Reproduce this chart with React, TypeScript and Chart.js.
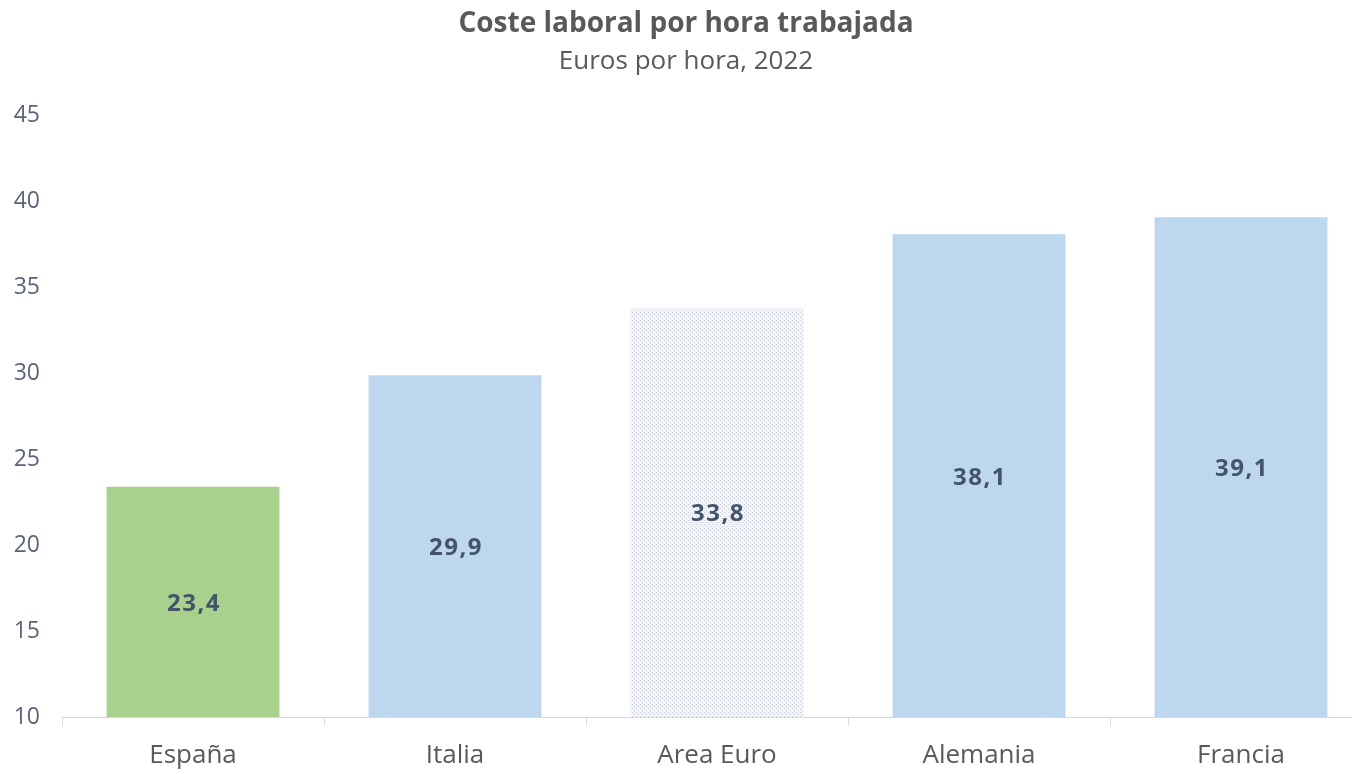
import React, { useEffect, useRef } from "react";
import { Chart, registerables } from "chart.js";

Chart.register(...registerables);

const categories = ["España", "Italia", "Area Euro", "Alemania", "Francia"];
const values = [23.4, 29.9, 33.8, 38.1, 39.1];
const valueLabels = ["23,4", "29,9", "33,8", "38,1", "39,1"];
const title = "Coste laboral por hora trabajada";
const subtitle = "Euros por hora, 2022";

function makePattern(): CanvasPattern | string {
  const c = document.createElement("canvas");
  c.width = 4;
  c.height = 4;
  const ctx = c.getContext("2d");
  if (!ctx) return "#eef0f4";
  ctx.fillStyle = "#f3f4f7";
  ctx.fillRect(0, 0, 4, 4);
  ctx.fillStyle = "#c8cdd6";
  ctx.fillRect(0, 0, 1, 1);
  ctx.fillRect(2, 2, 1, 1);
  const p = ctx.createPattern(c, "repeat");
  return p || "#eef0f4";
}

const FONT = "'Open Sans', sans-serif";

export default function App() {
  const ref = useRef<HTMLCanvasElement>(null);
  useEffect(() => {
    document.body.style.margin = "0";
    document.body.style.overflow = "hidden";
    const canvas = ref.current;
    if (!canvas) return;
    const pattern = makePattern();
    const colors = ["#A9D18E", "#BDD7EE", pattern, "#BDD7EE", "#BDD7EE"];
    const labelPlugin = {
      id: "valueLabels",
      afterDatasetsDraw(chart: any) {
        const ctx = chart.ctx;
        const meta = chart.getDatasetMeta(0);
        const bottom = chart.chartArea.bottom;
        ctx.save();
        ctx.fillStyle = "#44546A";
        ctx.font = `bold 24px ${FONT}`;
        try {
          (ctx as any).letterSpacing = "1.5px";
        } catch (e) {}
        ctx.textAlign = "center";
        ctx.textBaseline = "middle";
        meta.data.forEach((bar: any, i: number) => {
          const y = (bar.y + bottom) / 2 + 2;
          ctx.fillText(valueLabels[i], bar.x + 1, y);
        });
        ctx.restore();
      },
    };
    const chart = new Chart(canvas, {
      type: "bar",
      data: {
        labels: categories,
        datasets: [
          {
            data: values,
            backgroundColor: colors as any,
            categoryPercentage: 0.66,
            barPercentage: 1,
          },
        ],
      },
      options: {
        animation: false,
        responsive: false,
        layout: { padding: { left: 0, right: 0, top: 0, bottom: 0 } },
        plugins: {
          legend: { display: false },
          tooltip: { enabled: false },
          title: {
            display: true,
            text: title,
            color: "#595959",
            font: { family: FONT, size: 28, weight: "bold" },
            padding: { top: 7, bottom: 5 },
          },
          subtitle: {
            display: true,
            text: subtitle,
            color: "#595959",
            font: { family: FONT, size: 26 },
            padding: { top: 0, bottom: 39 },
          },
        },
        scales: {
          x: {
            grid: {
              display: true,
              offset: true,
              drawOnChartArea: false,
              drawTicks: true,
              tickLength: 8,
              color: "#d9d9d9",
            },
            border: { display: true, color: "#d9d9d9" },
            ticks: {
              color: "#595959",
              font: { family: FONT, size: 26 },
              padding: 15,
            },
            afterFit(scale: any) {
              scale.height = 57;
              scale.paddingLeft = 0;
              scale.paddingRight = 0;
            },
          },
          y: {
            min: 10,
            max: 45,
            grid: { display: false, drawTicks: false },
            border: { display: false },
            ticks: {
              stepSize: 5,
              color: "#5b6478",
              font: { family: FONT, size: 23 },
              padding: 22,
            },
            afterFit(scale: any) {
              scale.width = 62;
              scale.paddingTop = 0;
              scale.paddingBottom = 0;
            },
          },
        },
      },
      plugins: [labelPlugin],
    });
    return () => chart.destroy();
  }, []);
  return (
    <div style={{ position: "absolute", left: 0, top: 0, width: 1352, height: 774, background: "#fff", overflow: "hidden" }}>
      <canvas ref={ref} width={1372} height={774} style={{ display: "block" }} />
    </div>
  );
}
